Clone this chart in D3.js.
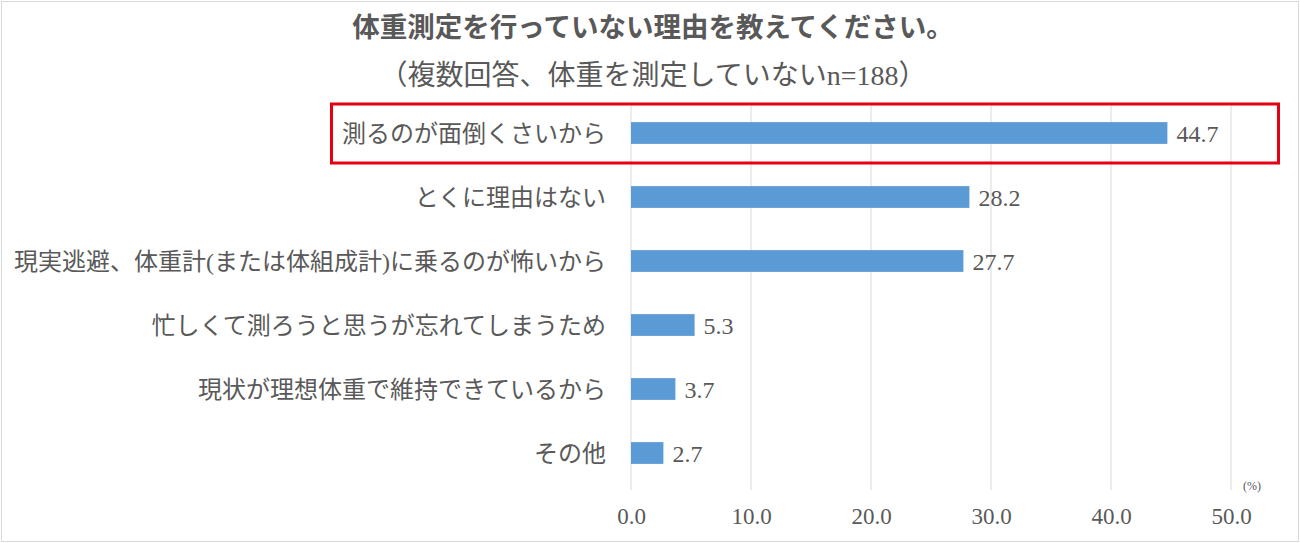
<!DOCTYPE html>
<html><head><meta charset="utf-8">
<script src="https://cdn.jsdelivr.net/npm/d3@7"></script>
<style>
html,body{margin:0;padding:0;background:#fff;}
svg{display:block;}
text{font-family:"Liberation Serif","Noto Sans CJK JP",serif;fill:#595959;}
</style></head><body>
<svg id="chart" width="1300" height="543"></svg>
<script>
const categories = ["測るのが面倒くさいから","とくに理由はない","現実逃避、体重計(または体組成計)に乗るのが怖いから","忙しくて測ろうと思うが忘れてしまうため","現状が理想体重で維持できているから","その他"];
const values = [44.7, 28.2, 27.7, 5.3, 3.7, 2.7];
const tickValues = [0, 10, 20, 30, 40, 50];
const titleLines = ["体重測定を行っていない理由を教えてください。","（複数回答、体重を測定していないn=188）"];
const unitLabel = "(%)";
const highlightIndex = 0;

const svg = d3.select("#chart");
const W = 1300, H = 543;
const m = {left: 631, right: 70, top: 101, bottom: 58};

svg.append("rect").attr("x",1.5).attr("y",1.5).attr("width",W-3).attr("height",H-3)
  .attr("fill","#fff").attr("stroke","#d9d9d9").attr("stroke-width",1);

const x = d3.scaleLinear().domain([0,50]).range([m.left, 1231]);
const y = d3.scaleBand().domain(categories).range([m.top, 485]).paddingInner(0.66).paddingOuter(0.33);

// gridlines
svg.append("g").selectAll("line").data(tickValues).join("line")
  .attr("x1",d=>x(d)).attr("x2",d=>x(d)).attr("y1",103).attr("y2",490)
  .attr("stroke","#d9d9d9").attr("stroke-width",1);

// bars
svg.append("g").selectAll("rect").data(values).join("rect")
  .attr("x",x(0)).attr("y",(d,i)=>y(categories[i]))
  .attr("width",d=>x(d)-x(0)).attr("height",y.bandwidth())
  .attr("fill","#5b9bd5");

// value labels
svg.append("g").selectAll("text").data(values).join("text")
  .attr("x",d=>x(d)+9).attr("y",(d,i)=>y(categories[i])+y.bandwidth()/2)
  .attr("dy","0.36em").attr("font-size",24).text(d=>d.toFixed(1));

// category labels
svg.append("g").selectAll("text").data(categories).join("text")
  .attr("x",606).attr("y",d=>y(d)+y.bandwidth()/2).attr("dy","0.36em")
  .attr("text-anchor","end").attr("font-size",24).text(d=>d);

// x axis tick labels
const axis = d3.axisBottom(x).tickValues(tickValues).tickFormat(d3.format(".1f")).tickSize(0);
const ag = svg.append("g").attr("transform","translate(0,505)").call(axis);
ag.select(".domain").remove();
ag.selectAll("text").attr("font-size",23).attr("fill","#595959")
  .style("font-family",'"Liberation Serif","Noto Sans CJK JP",serif');

svg.append("text").attr("x",1252).attr("y",490).attr("text-anchor","middle")
  .attr("font-size",12).text(unitLabel);

// title
svg.append("g").selectAll("text").data(titleLines).join("text")
  .attr("x",653).attr("y",(d,i)=>37+i*48).attr("text-anchor","middle")
  .attr("font-size",(d,i)=>i===0?27.5:28).attr("font-weight",(d,i)=>i===0?"bold":"normal")
  .text(d=>d);

// highlight box
const hy = y(categories[highlightIndex]) + y.bandwidth()/2;
svg.append("rect").attr("x",331.5).attr("y",hy-29).attr("width",947).attr("height",59)
  .attr("fill","none").attr("stroke","#e60012").attr("stroke-width",3);
</script>
</body></html>
